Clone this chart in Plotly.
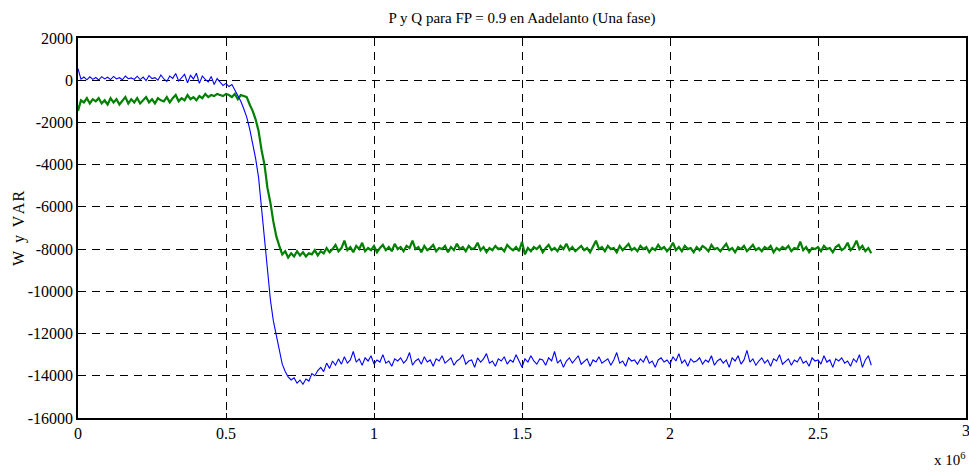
import plotly.graph_objects as go

# Active power P (blue), sampled every 0.01 x 10^6
P = [
    550, 50, 150, 20, 160, 40, 130, 10, 170, 60,
    140, 30, 180, 60, 120, 20, 200, 70, 110, 40,
    190, 30, 150, -20, 220, 80, 120, 0, 250, 60,
    -60, 200, 90, 320, -40, 150, 280, -120, 230, 60,
    330, -150, 200, 40, -80, 180, -200, 80, -100, -250,
    -150, -300, -200, -450, -700, -1000, -1350, -1750, -2300, -2950,
    -3700, -4600, -6100, -7300, -9100, -10400, -11400, -12100, -12900, -13450,
    -13800, -14050, -14200, -14100, -14350, -14200, -14400, -14150, -14250, -13900,
    -14000, -13750, -13600, -13800, -13400, -13650, -13300, -13500, -13200, -13450,
    -13100, -13400, -13250, -12850, -13350, -13200, -13500, -13150, -13300, -13050,
    -13450, -13250, -13350, -13000, -13400, -13300, -13550, -13200, -13300, -13150,
    -13400, -13250, -12900, -13500, -13300, -13200, -13450, -13100, -13350, -13250,
    -13550, -13200, -13300, -13050, -13400, -13250, -13150, -13500, -13300, -13200,
    -13000, -13450, -13300, -13250, -13600, -13150, -13350, -13200, -12950, -13400,
    -13300, -13550, -13200, -13300, -13100, -13450, -13250, -13350, -13000, -13300,
    -13600, -13200, -13350, -13050, -13300, -13450, -13200, -13250, -13500, -13150,
    -13300, -12850, -13400, -13250, -13600, -13300, -13150, -13400, -13250, -13050,
    -13450, -13300, -13200, -13550, -13250, -13350, -13100, -13400, -13300, -13200,
    -13500, -13250, -12900, -13400, -13300, -13550, -13150, -13300, -13250, -13450,
    -13200, -13350, -13050, -13400, -13300, -13600, -13250, -13150, -13350, -13250,
    -13450, -13100, -13300, -12950, -13400, -13250, -13550, -13200, -13350, -13300,
    -13150, -13450, -13250, -13350, -13050, -13500, -13300, -13200, -13400, -13250,
    -13600, -13150, -13300, -13050, -13450, -13250, -12800, -13350, -13200, -13500,
    -13300, -13150, -13400, -13250, -13550, -13200, -13300, -13000, -13450, -13300,
    -13200, -13500, -13250, -13350, -13100, -13400, -13300, -13550, -13150, -13300,
    -13250, -13450, -13050, -13350, -13250, -13600, -13200, -13300, -13150, -13400,
    -13300, -13550, -13200, -13350, -13000, -13600, -13250, -13050, -13500,
]

# Reactive power Q (green)
Q = [
    -1450, -950, -1050, -850, -1100, -900, -1000, -850, -1100, -950,
    -1150, -850, -1050, -900, -1150, -950, -800, -1100, -900, -1050,
    -850, -1100, -950, -800, -1050, -900, -1100, -850, -950, -1000,
    -800, -1050, -850, -700, -1000, -850, -950, -700, -900, -800,
    -950, -750, -850, -650, -800, -700, -750, -650, -700, -750,
    -650, -700, -800, -650, -900, -700, -750, -800, -1150, -1450,
    -1850, -2400, -3300, -4000, -5100, -5800, -6700, -7400, -7850, -8250,
    -8100, -8400, -8200, -8350, -8100, -8300, -8150, -8350, -8200, -8250,
    -8050, -8300, -8100, -8200, -7950, -8150, -8000, -7800, -8100, -7950,
    -7600, -8050, -7900, -8150, -7850, -8000, -7700, -8100, -7950, -8050,
    -7850, -8150, -7950, -7800, -8050, -7900, -8100, -7750, -8000, -7900,
    -8100, -7850, -7950, -7600, -8000, -7900, -8150, -7850, -8050, -7950,
    -7800, -8100, -7950, -8000, -7850, -8150, -7900, -8050, -7750, -8000,
    -7900, -8100, -7850, -8000, -7950, -7700, -8050, -7900, -8150, -7950,
    -8050, -7850, -8000, -7950, -8100, -7800, -7950, -8050, -7900, -8100,
    -7650, -8250, -7950, -8100, -7900, -8000, -7850, -8150, -7950, -7800,
    -8050, -7950, -8100, -7850, -8000, -7750, -8050, -7900, -8100, -7950,
    -7850, -8050, -7950, -8150, -7900, -7600, -8000, -7900, -8100, -7850,
    -8000, -7950, -8150, -7850, -8050, -7900, -7750, -8050, -7950, -8100,
    -7850, -8000, -7900, -8150, -7950, -8050, -7800, -8000, -7900, -8100,
    -7950, -7700, -8050, -7900, -8100, -7850, -8000, -7950, -8150, -7900,
    -8050, -7850, -7950, -8100, -7800, -8000, -7950, -8100, -7900, -7750,
    -8050, -7950, -8150, -7900, -8000, -7850, -8100, -7950, -7800, -8050,
    -7950, -8100, -7900, -8000, -7850, -8150, -7950, -8050, -7900, -8000,
    -7850, -8100, -7950, -8000, -7650, -8050, -7900, -8150, -7950, -8000,
    -7900, -8100, -7850, -8000, -7950, -8150, -7900, -7800, -8050, -7950,
    -7700, -8050, -7900, -7600, -8000, -7850, -8100, -7950, -8200,
]

X_STEP = 0.01  # sample spacing in units of 10^6
xP = [round(i * X_STEP, 2) for i in range(len(P))]
xQ = [round(i * X_STEP, 2) for i in range(len(Q))]

x_ticks = [0, 0.5, 1, 1.5, 2, 2.5, 3]
x_tick_labels = ["0", "0.5", "1", "1.5", "2", "2.5", "3"]
y_ticks = [2000, 0, -2000, -4000, -6000, -8000, -10000, -12000, -14000, -16000]
y_tick_labels = [str(v) for v in y_ticks]

title_text = "P y Q para FP = 0.9 en Aadelanto (Una fase)"
y_title = "W&nbsp; y&nbsp; V&#8202;A&#8202;R"

FONT = "Liberation Serif"

fig = go.Figure()
fig.add_trace(go.Scatter(x=xQ, y=Q, mode="lines",
                         line=dict(color="#008000", width=2.2), showlegend=False))
fig.add_trace(go.Scatter(x=xP, y=P, mode="lines",
                         line=dict(color="#0000FF", width=1.1), showlegend=False))

axis_common = dict(
    showline=True, linecolor="black", linewidth=1.5, mirror="ticks",
    ticks="inside", ticklen=5, tickcolor="black", tickwidth=1,
    showgrid=True, gridcolor="black", gridwidth=1, griddash="8px,6px",
    zeroline=False, automargin=False,
    tickfont=dict(family=FONT, size=16, color="black"),
)

# the last x tick ("3") sits on the frame; its label is drawn as an annotation
fig.update_xaxes(range=[0, 3], tickvals=x_ticks[:-1],
                 ticktext=x_tick_labels[:-1], **axis_common)
fig.update_yaxes(range=[-16000, 2000], tickvals=y_ticks, ticktext=y_tick_labels,
                 **axis_common)

fig.update_layout(
    width=969, height=473,
    margin=dict(l=78, r=3, t=38, b=55),
    paper_bgcolor="white", plot_bgcolor="white",
    title=dict(text=title_text, x=(78 + 966) / 2 / 969, xanchor="center",
               y=1 - 18 / 473, yanchor="middle",
               font=dict(family=FONT, size=15, color="black")),
    font=dict(family=FONT, color="black"),
)

fig.add_annotation(xref="x", yref="paper", x=x_ticks[-1], y=0, xanchor="center", yanchor="top",
                   yshift=-2, showarrow=False, text=x_tick_labels[-1],
                   font=dict(family=FONT, size=16, color="black"))

fig.add_annotation(xref="paper", yref="paper", x=(19 - 78) / 888, y=0.5,
                   xanchor="center", yanchor="middle", textangle=-90, showarrow=False,
                   text=y_title, font=dict(family=FONT, size=16, color="black"))

fig.add_annotation(xref="paper", yref="paper", x=1.0, y=0, xanchor="right", yanchor="top",
                   yshift=-30, xshift=2, showarrow=False,
                   text="x 10<sup>6</sup>", font=dict(family=FONT, size=15, color="black"))

fig.write_html("out.html")
